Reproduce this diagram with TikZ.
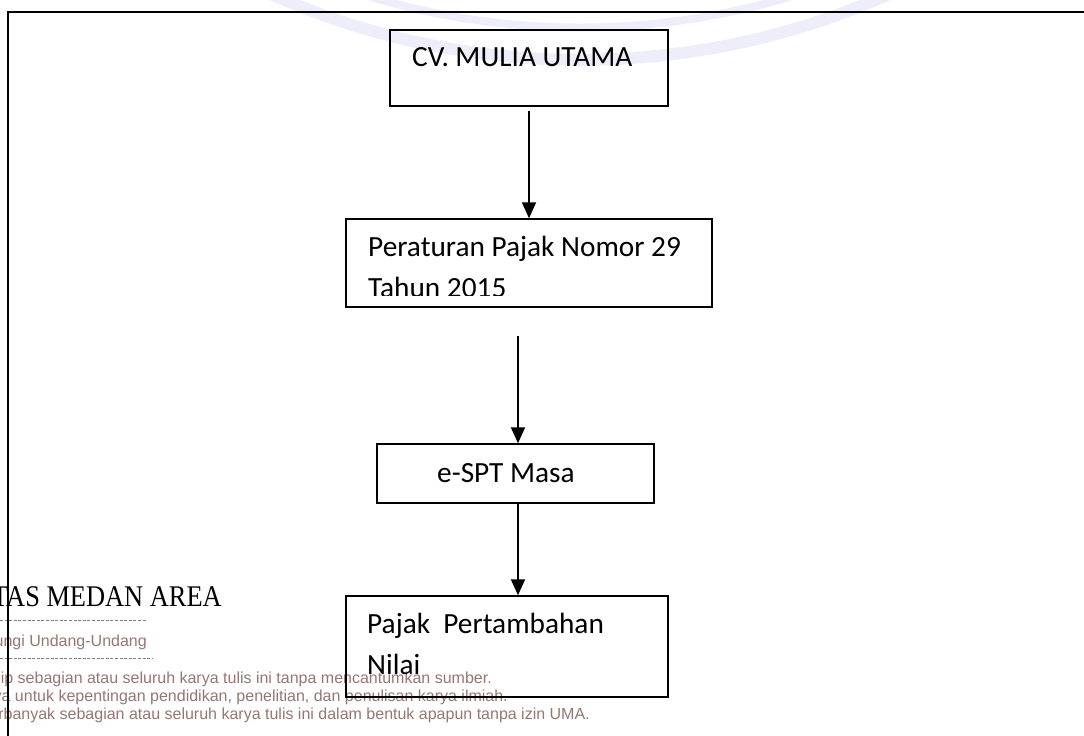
\documentclass[tikz,border=0pt]{standalone}
\usepackage{fontspec}
\setmainfont{Carlito}
\newfontfamily\wmserif{Liberation Serif}
\newfontfamily\wmsans{Liberation Sans}
\usetikzlibrary{arrows.meta}
\definecolor{wmbrown}{RGB}{150,118,112}
\definecolor{wmblue}{RGB}{238,238,251}

\begin{document}
\begin{tikzpicture}[x=1pt, y=-1pt,
    box_node/.style={draw, line width=1.5pt, inner sep=0pt},
    label_node/.style={anchor=base west, inner sep=0pt, font=\fontsize{29.3}{41}\selectfont},
    wm_node/.style={anchor=base east, inner sep=0pt, text=wmbrown, font=\wmsans\fontsize{16}{17}\selectfont},
    wm_dash/.style={wmbrown, line width=0.8pt, dash pattern=on 3pt off 1.6pt},
    flow/.style={-{Triangle[width=14pt,length=16pt]}, line width=2pt}]

    \useasboundingbox (0,0) rectangle (1084,736);
    \draw[wmblue, line width=12pt] (960,-42) arc[start angle=60, end angle=120, radius=760];
    \draw[wmblue, line width=8pt] (944,-70) arc[start angle=60, end angle=120, radius=728];

    \node[anchor=base east, inner sep=0pt, font=\wmserif\fontsize{30}{30}\selectfont] (wm0) at (222,606) {\scalebox{0.88}[1]{TAS MEDAN AREA}};
    \draw[wm_dash] (0,620) -- (147,620);
    \node[wm_node] (wm1) at (147,646) {ungi Undang-Undang};
    \draw[wm_dash] (0,658) -- (152,658);
    \node[wm_node] (wm2) at (492,683) {ip sebagian atau seluruh karya tulis ini tanpa mencantumkan sumber.};
    \node[wm_node] (wm3) at (508,701) {ya untuk kepentingan pendidikan, penelitian, dan penulisan karya ilmiah.};
    \node[wm_node] (wm4) at (590,719) {rbanyak sebagian atau seluruh karya tulis ini dalam bentuk apapun tanpa izin UMA.};

    \draw[line width=1.5pt] (8,740) -- (8,12) -- (1090,12);

    \node[box_node, minimum width=278pt, minimum height=76pt] (b1) at (529,68) {};
    \node[box_node, minimum width=366pt, minimum height=88pt] (b2) at (529,263) {};
    \node[box_node, minimum width=277pt, minimum height=59pt] (b3) at (515.5,473.5) {};
    \node[box_node, minimum width=322pt, minimum height=101pt] (b4) at (507,646.5) {};

    \node[label_node] (t1) at (412,66) {CV. MULIA UTAMA};
    \begin{scope}
        \clip (346,219) rectangle (712,295);
        \node[label_node] (t2) at (368,256) {Peraturan Pajak Nomor 29};
        \node[label_node] (t2b) at (368,297) {Tahun 2015};
    \end{scope}
    \node[label_node] (t3) at (437,482) {e-SPT Masa};
    \node[label_node] (t4) at (367,633) {Pajak\ \ Pertambahan};
    \node[label_node] (t4b) at (367,674) {Nilai};

    \coordinate (a2) at (518,336);
    \draw[flow] ([yshift=-4pt]b1.south) -- (b2.north);
    \draw[flow] (a2) -- (a2 |- b3.north);
    \draw[flow] (a2 |- b3.south) -- (a2 |- b4.north);
\end{tikzpicture}
\end{document}
